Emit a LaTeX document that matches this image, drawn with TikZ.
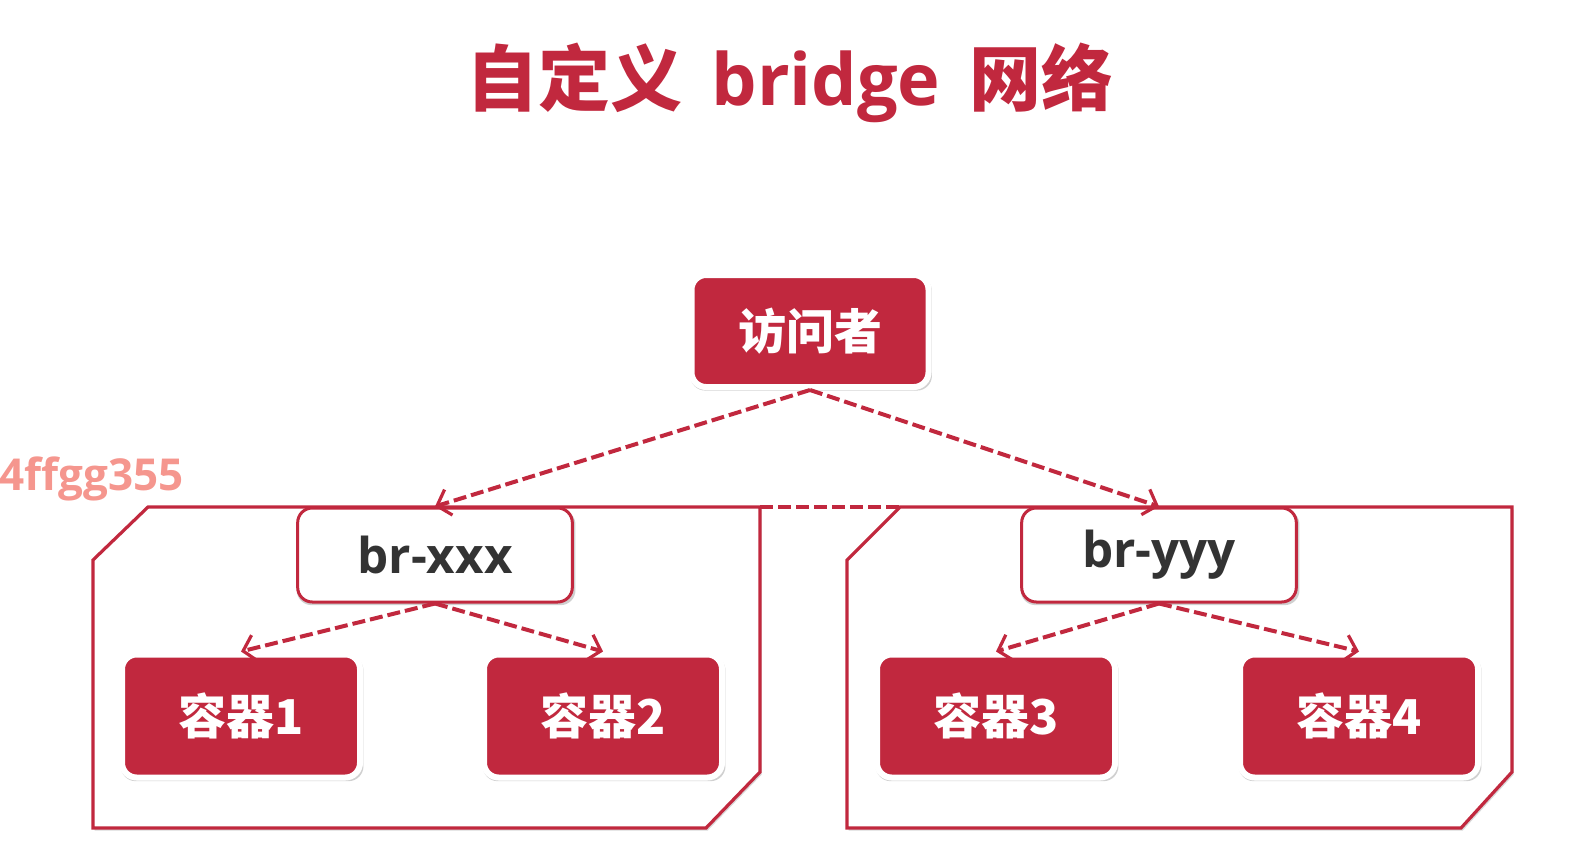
\documentclass[tikz,border=0pt]{standalone}
\usepackage{fontspec}
\setmainfont{Open Sans}[BoldFont={Open Sans Bold}]
\newfontfamily\cjk{Noto Sans CJK SC}
\usetikzlibrary{arrows.meta,shadows}
\definecolor{netred}{RGB}{193,40,62}
\definecolor{tagpink}{RGB}{245,150,142}
\definecolor{brtext}{RGB}{51,51,51}
\tikzset{
  redbox/.style={draw=white, line width=4.5pt, fill=netred, rounded corners=11pt,
    text=white, font=\cjk\bfseries\fontsize{36}{40}\selectfont, inner sep=0pt,
    drop shadow={shadow xshift=0.8pt, shadow yshift=-1.8pt, shadow scale=1.02, opacity=0.3, fill=black!60}},
  brbox/.style={draw=netred, line width=2.25pt, fill=white, rounded corners=11pt,
    text=brtext, font=\bfseries\fontsize{37}{42}\selectfont, inner sep=0pt,
    minimum width=206pt, minimum height=70.5pt,
    drop shadow={shadow xshift=0.8pt, shadow yshift=-1.8pt, shadow scale=1.015, opacity=0.3, fill=black!60}},
  panel/.style={draw=netred, line width=2.4pt, fill=white,
    drop shadow={shadow xshift=1.2pt, shadow yshift=-2pt, opacity=0.25, fill=black!60}},
  link/.style={draw=netred, line width=3pt, dash pattern=on 9.75pt off 3.75pt,
    -{Straight Barb[length=9pt, width=20pt, line width=2.4pt]}}
}
\begin{document}
\begin{tikzpicture}[x=0.75pt,y=0.75pt,yscale=-1,xscale=1]
\useasboundingbox (0,0) rectangle (1572,858);

% Title
\node (title) [anchor=base, text=netred, font=\bfseries\fontsize{54}{60}\selectfont] at (790,105)
  {{\cjk 自定义}\hspace{22pt}bridge\hspace{22pt}{\cjk 网络}};

% Tag
\node (tag) [anchor=base east, text=tagpink, font=\bfseries\fontsize{33}{36}\selectfont, inner sep=0pt] at (184,490) {4ffgg355};

% Panels
\draw [panel] (93,560) -- (148,507) -- (760,507) -- (760,772) -- (706,828) -- (93,828) -- cycle;
\draw [panel] (847,560) -- (900,507) -- (1512,507) -- (1512,772) -- (1461,828) -- (847,828) -- cycle;
\draw [netred, line width=3pt, dash pattern=on 9.75pt off 3.75pt] (760,507) -- (900,507);

% Nodes
\node (vis) [redbox, minimum width=177.75pt, minimum height=84pt] at (810,331) {访问者};
\node (brx) [brbox] at (435,555) {br-xxx};
\node (bry) [brbox] at (1159,555) {br-yyy};
\node (c1) [redbox, minimum width=178.5pt, minimum height=92.25pt] at (241,716) {容器1};
\node (c2) [redbox, minimum width=178.5pt, minimum height=92.25pt] at (603,716) {容器2};
\node (c3) [redbox, minimum width=178.5pt, minimum height=92.25pt] at (996,716) {容器3};
\node (c4) [redbox, minimum width=178.5pt, minimum height=92.25pt] at (1359,716) {容器4};

% Links
\draw [link] (vis.south) -- (brx.north);
\draw [link] (vis.south) -- (bry.north);
\draw [link] (brx.south) -- (c1.north);
\draw [link] (brx.south) -- (c2.north);
\draw [link] (bry.south) -- (c3.north);
\draw [link] (bry.south) -- (c4.north);

\end{tikzpicture}
\end{document}
